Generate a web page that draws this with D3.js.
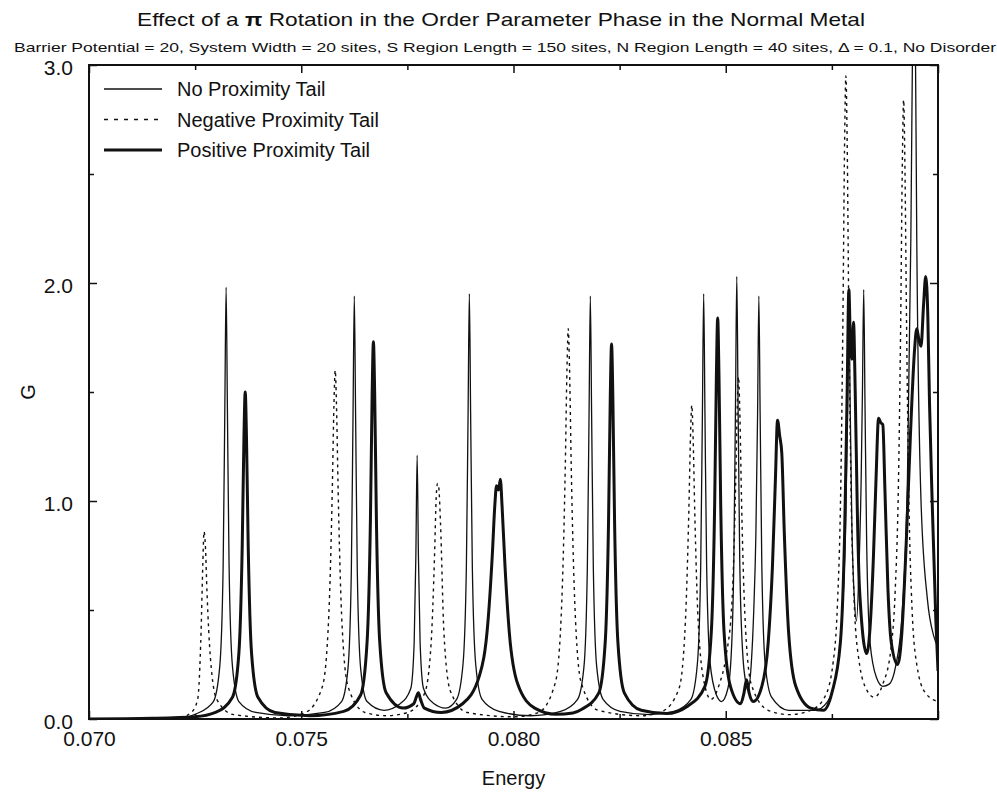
<!DOCTYPE html>
<html>
<head>
<meta charset="utf-8">
<script src="https://cdn.jsdelivr.net/npm/d3@7"></script>
<style>
  body { margin: 0; background: #fff; }
  text { font-family: "Liberation Sans", Arial, sans-serif; fill: #111; }
</style>
</head>
<body>
<div id="chart"></div>
<script>
// data: [energy, G]
const noTailPts = [
  [0.0700, 0.000], [0.0715, 0.002], [0.0722, 0.006], [0.07253, 0.024], [0.07293, 0.08],
  [0.07308, 0.24], [0.07316, 0.70], [0.07320, 1.43], [0.07323, 1.98], [0.07326, 1.43],
  [0.07330, 0.70], [0.07338, 0.24], [0.07353, 0.08], [0.07393, 0.03], [0.0747, 0.015],
  [0.07555, 0.03], [0.07595, 0.08], [0.07610, 0.23], [0.07618, 0.68], [0.07622, 1.40],
  [0.07625, 1.94], [0.07628, 1.40], [0.07632, 0.68], [0.07640, 0.23], [0.07655, 0.08],
  [0.07695, 0.04], [0.07733, 0.07], [0.07758, 0.14], [0.07766, 0.35], [0.07770, 0.75],
  [0.07773, 1.21], [0.07776, 0.75], [0.07780, 0.35], [0.07788, 0.14], [0.07813, 0.07],
  [0.07840, 0.05], [0.07866, 0.09], [0.07881, 0.25], [0.07889, 0.70], [0.07893, 1.40],
  [0.07896, 1.95], [0.07899, 1.40], [0.07903, 0.70], [0.07911, 0.25], [0.07926, 0.09],
  [0.07966, 0.035], [0.0804, 0.015], [0.08111, 0.035], [0.08151, 0.09], [0.08166, 0.24],
  [0.08174, 0.70], [0.08178, 1.40], [0.08181, 1.94], [0.08184, 1.40], [0.08188, 0.70],
  [0.08196, 0.24], [0.08211, 0.09], [0.08251, 0.035], [0.0832, 0.02], [0.08378, 0.035],
  [0.08418, 0.09], [0.08433, 0.25], [0.08441, 0.70], [0.08445, 1.40], [0.08448, 1.95],
  [0.08451, 1.40], [0.08455, 0.70], [0.08463, 0.26], [0.08478, 0.11], [0.08490, 0.08],
  [0.08505, 0.14], [0.08513, 0.30], [0.08519, 0.72], [0.08523, 1.45], [0.08526, 2.03],
  [0.08529, 1.45], [0.08533, 0.72], [0.08540, 0.30], [0.08548, 0.16], [0.08552, 0.13],
  [0.08560, 0.25], [0.08566, 0.50], [0.08571, 0.85], [0.08575, 1.40], [0.08578, 1.94],
  [0.08581, 1.40], [0.08585, 0.70], [0.08593, 0.25], [0.08608, 0.10], [0.08648, 0.04],
  [0.0871, 0.04], [0.08740, 0.08], [0.08760, 0.20], [0.08775, 0.50], [0.08783, 0.95],
  [0.08787, 1.45], [0.08790, 1.97], [0.08793, 1.45], [0.08797, 0.90], [0.08803, 0.55],
  [0.08808, 0.45], [0.08814, 0.70], [0.08819, 1.10], [0.08822, 1.50], [0.08825, 1.97],
  [0.08828, 1.45], [0.08832, 0.80], [0.08840, 0.35], [0.08855, 0.19], [0.08870, 0.15],
  [0.08885, 0.16], [0.08900, 0.24], [0.08915, 0.47], [0.08928, 1.10], [0.08936, 2.2],
  [0.08941, 3.3], [0.08943, 3.6], [0.08946, 3.3], [0.08950, 2.2], [0.08960, 1.0],
  [0.08975, 0.55], [0.08990, 0.38], [0.0900, 0.33]
];

const negTailPts = [
  [0.0700, 0.000], [0.0718, 0.003], [0.0722, 0.01], [0.07241, 0.03], [0.07256, 0.09],
  [0.07264, 0.40], [0.07268, 0.70], [0.07271, 0.86], [0.07274, 0.80], [0.07278, 0.58],
  [0.07286, 0.28], [0.07301, 0.09], [0.07341, 0.02], [0.0745, 0.005], [0.07510, 0.03],
  [0.07550, 0.15], [0.07565, 0.48], [0.07573, 1.04], [0.07577, 1.44], [0.07580, 1.60],
  [0.07583, 1.44], [0.07587, 1.04], [0.07595, 0.48], [0.07610, 0.15], [0.07650, 0.03],
  [0.0770, 0.015], [0.07751, 0.03], [0.07791, 0.12], [0.07806, 0.35], [0.07814, 0.75],
  [0.07818, 1.02], [0.07821, 1.08], [0.07824, 1.06], [0.07828, 0.90], [0.07836, 0.40],
  [0.07851, 0.13], [0.07891, 0.03], [0.0800, 0.01], [0.08059, 0.03], [0.08099, 0.17],
  [0.08114, 0.55], [0.08122, 1.16], [0.08126, 1.61], [0.08129, 1.79], [0.08132, 1.61],
  [0.08136, 1.16], [0.08144, 0.55], [0.08159, 0.17], [0.08199, 0.04], [0.0830, 0.015],
  [0.08350, 0.035], [0.08390, 0.14], [0.08405, 0.45], [0.08413, 0.95], [0.08417, 1.30],
  [0.08420, 1.44], [0.08423, 1.30], [0.08427, 0.95], [0.08435, 0.45], [0.08450, 0.16],
  [0.08465, 0.09], [0.08485, 0.16], [0.08500, 0.28], [0.08515, 0.55], [0.08523, 1.05],
  [0.08527, 1.42], [0.08530, 1.57], [0.08533, 1.42], [0.08537, 1.02], [0.08545, 0.48],
  [0.08560, 0.16], [0.08600, 0.04], [0.0865, 0.02], [0.08700, 0.04], [0.08733, 0.10],
  [0.08753, 0.26], [0.08763, 0.52], [0.08771, 1.07], [0.08776, 1.83], [0.08780, 2.65],
  [0.08783, 2.95], [0.08786, 2.65], [0.08790, 1.83], [0.08795, 1.07], [0.08803, 0.52],
  [0.08813, 0.28], [0.08833, 0.13], [0.08850, 0.10], [0.08870, 0.16], [0.08889, 0.32],
  [0.08899, 0.58], [0.08907, 1.10], [0.08912, 1.80], [0.08916, 2.55], [0.08919, 2.84],
  [0.08922, 2.55], [0.08926, 1.80], [0.08931, 1.05], [0.08939, 0.50], [0.08950, 0.25],
  [0.08970, 0.12], [0.0900, 0.08]
];

const posTailPts = [
  [0.0700, 0.000], [0.0715, 0.003], [0.0725, 0.01], [0.07298, 0.03], [0.07338, 0.10],
  [0.07353, 0.30], [0.07361, 0.80], [0.07365, 1.29], [0.07368, 1.50], [0.07371, 1.29],
  [0.07375, 0.80], [0.07383, 0.30], [0.07398, 0.10], [0.07438, 0.03], [0.0752, 0.015],
  [0.07600, 0.035], [0.07640, 0.11], [0.07655, 0.35], [0.07663, 0.92], [0.07667, 1.49],
  [0.07670, 1.73], [0.07673, 1.49], [0.07677, 0.92], [0.07685, 0.35], [0.07700, 0.12],
  [0.07740, 0.05], [0.07765, 0.07], [0.07771, 0.10], [0.07776, 0.12], [0.07781, 0.09],
  [0.07790, 0.05], [0.07830, 0.03], [0.07880, 0.07], [0.07920, 0.20], [0.07940, 0.45],
  [0.07950, 0.75], [0.07956, 0.98], [0.07960, 1.07], [0.07965, 1.05], [0.07969, 1.10],
  [0.07973, 0.98], [0.07980, 0.70], [0.07990, 0.40], [0.08010, 0.16], [0.08050, 0.05],
  [0.0810, 0.022], [0.0814, 0.028], [0.08161, 0.045], [0.08201, 0.12], [0.08216, 0.35],
  [0.08224, 0.92], [0.08228, 1.48], [0.08231, 1.72], [0.08234, 1.48], [0.08238, 0.92],
  [0.08246, 0.35], [0.08261, 0.12], [0.08301, 0.04], [0.0836, 0.025], [0.08411, 0.06],
  [0.08451, 0.15], [0.08466, 0.40], [0.08474, 1.00], [0.08478, 1.58], [0.08481, 1.84],
  [0.08484, 1.58], [0.08488, 1.00], [0.08496, 0.40], [0.08511, 0.15], [0.08535, 0.07],
  [0.08543, 0.12], [0.08549, 0.18], [0.08555, 0.12], [0.08565, 0.08], [0.08585, 0.15],
  [0.08600, 0.35], [0.08610, 0.70], [0.08617, 1.10], [0.08622, 1.37], [0.08627, 1.30],
  [0.08632, 1.22], [0.08638, 0.85], [0.08648, 0.40], [0.08665, 0.15], [0.08700, 0.05],
  [0.0873, 0.04], [0.08750, 0.12], [0.08770, 0.35], [0.08780, 0.85], [0.08786, 1.50],
  [0.08790, 1.97], [0.08794, 1.70], [0.08797, 1.65], [0.08801, 1.82], [0.08805, 1.50],
  [0.08810, 0.95], [0.08815, 0.60], [0.08832, 0.30], [0.08840, 0.42], [0.08848, 0.75],
  [0.08854, 1.10], [0.08860, 1.38], [0.08865, 1.36], [0.08870, 1.35], [0.08875, 1.05],
  [0.08882, 0.60], [0.08890, 0.35], [0.08905, 0.25], [0.08915, 0.40], [0.08925, 0.80],
  [0.08935, 1.30], [0.08945, 1.70], [0.08950, 1.79], [0.08955, 1.74], [0.08960, 1.71],
  [0.08966, 1.90], [0.08971, 2.03], [0.08976, 1.85], [0.08980, 1.45], [0.08987, 0.95],
  [0.08995, 0.45], [0.0900, 0.22]
];

const xMajor = [0.070, 0.075, 0.080, 0.085, 0.090];
const xMinor = [0.0725, 0.0775, 0.0825, 0.0875];
const xTickLabels = ["0.070", "0.075", "0.080", "0.085", ""];
const yMajor = [0, 1, 2, 3];
const yMinor = [0.5, 1.5, 2.5];
const yTickLabels = ["0.0", "1.0", "2.0", "3.0"];
const legendLabels = ["No Proximity Tail", "Negative Proximity Tail", "Positive Proximity Tail"];

const width = 997, height = 795;
const margin = {left: 89, right: 59, top: 65, bottom: 76};
const plotW = width - margin.left - margin.right;
const plotH = height - margin.top - margin.bottom;

const svg = d3.select("#chart").append("svg")
    .attr("width", width)
    .attr("height", height);

const x = d3.scaleLinear().domain([0.070, 0.090]).range([margin.left, margin.left + plotW]);
const y = d3.scaleLinear().domain([0, 3]).range([margin.top + plotH, margin.top]);

svg.append("clipPath").attr("id", "plotclip")
    .append("rect")
    .attr("x", margin.left).attr("y", margin.top)
    .attr("width", plotW).attr("height", plotH);

const line = d3.line()
    .x(d => x(d[0]))
    .y(d => y(d[1]))
    .curve(d3.curveMonotoneX);

const seriesStyle = [
    {pts: noTailPts, w: 1.3, dash: null},
    {pts: negTailPts, w: 1.4, dash: "3,4"},
    {pts: posTailPts, w: 3, dash: null}
];

const plot = svg.append("g").attr("clip-path", "url(#plotclip)");
seriesStyle.forEach(s => {
    plot.append("path")
        .datum(s.pts)
        .attr("d", line)
        .attr("fill", "none")
        .attr("stroke", "#111")
        .attr("stroke-width", s.w)
        .attr("stroke-dasharray", s.dash)
        .attr("stroke-linejoin", "round");
});

// axes, ticks pointing inward
const styleAxis = g => {
    g.select(".domain").remove();
    g.selectAll(".tick line").attr("stroke", "#111").attr("stroke-width", 1.5);
    g.selectAll("text").attr("font-size", 21).attr("fill", "#111")
        .attr("font-family", "'Liberation Sans', Arial, sans-serif");
};

svg.append("g")
    .attr("transform", `translate(0,${margin.top + plotH})`)
    .call(d3.axisBottom(x).tickValues(xMajor).tickSize(-8).tickPadding(12)
        .tickFormat((d, i) => xTickLabels[i]))
    .call(styleAxis);
svg.append("g")
    .attr("transform", `translate(0,${margin.top + plotH})`)
    .call(d3.axisBottom(x).tickValues(xMinor).tickSize(-5).tickFormat(""))
    .call(styleAxis);
svg.append("g")
    .attr("transform", `translate(0,${margin.top})`)
    .call(d3.axisTop(x).tickValues(xMajor).tickSize(-8).tickFormat(""))
    .call(styleAxis);
svg.append("g")
    .attr("transform", `translate(0,${margin.top})`)
    .call(d3.axisTop(x).tickValues(xMinor).tickSize(-5).tickFormat(""))
    .call(styleAxis);

svg.append("g")
    .attr("transform", `translate(${margin.left},0)`)
    .call(d3.axisLeft(y).tickValues(yMajor).tickSize(-8).tickPadding(16)
        .tickFormat((d, i) => yTickLabels[i]))
    .call(styleAxis)
    .call(g => g.selectAll("text").attr("dy", "0.45em"));
svg.append("g")
    .attr("transform", `translate(${margin.left},0)`)
    .call(d3.axisLeft(y).tickValues(yMinor).tickSize(-5).tickFormat(""))
    .call(styleAxis);
svg.append("g")
    .attr("transform", `translate(${margin.left + plotW},0)`)
    .call(d3.axisRight(y).tickValues(yMajor).tickSize(-8).tickFormat(""))
    .call(styleAxis);
svg.append("g")
    .attr("transform", `translate(${margin.left + plotW},0)`)
    .call(d3.axisRight(y).tickValues(yMinor).tickSize(-5).tickFormat(""))
    .call(styleAxis);

svg.append("rect")
    .attr("x", margin.left).attr("y", margin.top)
    .attr("width", plotW).attr("height", plotH)
    .attr("fill", "none")
    .attr("stroke", "#111")
    .attr("stroke-width", 2);

// titles
const title = svg.append("text")
    .attr("x", 501).attr("y", 26)
    .attr("text-anchor", "middle")
    .attr("font-size", 19)
    .attr("textLength", 728)
    .attr("lengthAdjust", "spacingAndGlyphs");
title.append("tspan").text("Effect of a ");
title.append("tspan").attr("font-weight", "bold").text("\u03c0");
title.append("tspan").text(" Rotation in the Order Parameter Phase in the Normal Metal");

svg.append("text")
    .attr("x", 14).attr("y", 52)
    .attr("font-size", 13.5)
    .attr("textLength", 982)
    .attr("lengthAdjust", "spacingAndGlyphs")
    .text("Barrier Potential = 20, System Width = 20 sites, S Region Length = 150 sites, N Region Length = 40 sites, \u0394 = 0.1, No Disorder");

svg.append("text")
    .attr("x", x(0.080)).attr("y", 785)
    .attr("text-anchor", "middle")
    .attr("font-size", 20)
    .text("Energy");

svg.append("text")
    .attr("transform", `translate(35,${y(1.5)}) rotate(-90)`)
    .attr("text-anchor", "middle")
    .attr("font-size", 20)
    .text("G");

// legend
const legend = svg.append("g");
legendLabels.forEach((lab, i) => {
    const ly = 89 + i * 30.5;
    const s = seriesStyle[i];
    legend.append("line")
        .attr("x1", 104).attr("x2", 162)
        .attr("y1", ly).attr("y2", ly)
        .attr("stroke", "#111")
        .attr("stroke-width", s.w)
        .attr("stroke-dasharray", s.dash ? "4,6" : null);
    legend.append("text")
        .attr("x", 177).attr("y", ly + 7)
        .attr("font-size", 20)
        .text(lab);
});
</script>
</body>
</html>
